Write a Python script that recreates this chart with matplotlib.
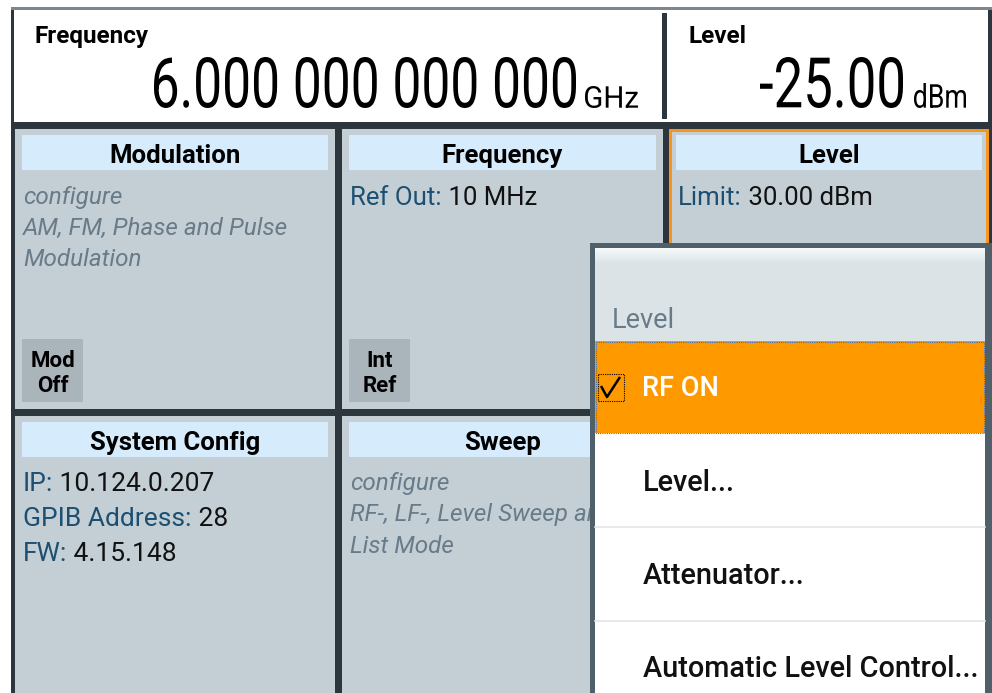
import numpy as np
import matplotlib
matplotlib.use('Agg')
import matplotlib.pyplot as plt
from matplotlib.patches import Rectangle, PathPatch
from matplotlib.textpath import TextPath
from matplotlib.font_manager import FontProperties
import matplotlib.transforms as mtransforms

plt.rcParams['font.family'] = ['Roboto', 'DejaVu Sans']

# Screen content
freq_label = 'Frequency'
freq_value = '6.000 000 000 000'
freq_unit = 'GHz'
level_label = 'Level'
level_value = '-25.00'
level_unit = 'dBm'

tile_titles = ['Modulation', 'Frequency', 'Level', 'System Config', 'Sweep']
mod_lines = ['configure', 'AM, FM, Phase and Pulse', 'Modulation']
sweep_lines = ['configure', 'RF-, LF-, Level Sweep and', 'List Mode']
freq_info = ('Ref Out:', '10 MHz')
level_info = ('Limit:', '30.00 dBm')
sys_labels = ['IP:', 'GPIB Address:', 'FW:']
sys_values = ['10.124.0.207', '28', '4.15.148']
buttons = [('Mod', 'Off'), ('Int', 'Ref')]

menu_title = 'Level'
menu_items = ['RF ON', 'Level...', 'Attenuator...', 'Automatic Level Control...']

# Colors
DARK = '#2c363c'
TILE = '#c4ced5'
TITLE_BAR = '#d6ecfc'
BUTTON = '#aab4bb'
ITALIC = '#687b88'
BLUE = '#1c4f71'
ORANGE = '#fe9a00'
MENU_BORDER = '#4f606b'
MENU_HEAD = '#dbe3e7'


def rect(ax, x0, x1, y0, y1, color, z=1, **kw):
    ax.add_patch(Rectangle((x0, y0), x1 - x0, y1 - y0, facecolor=color,
                           edgecolor='none', zorder=z, **kw))


def fitted_text(ax, s, x0, x1, top, bottom, z=3):
    """Draw s as a path squeezed into the box (condensed display digits)."""
    tp = TextPath((0, 0), s, size=100, prop=FontProperties(family='Roboto'))
    ext = tp.get_extents()
    sx = (x1 - x0) / ext.width
    sy = (bottom - top) / ext.height
    tr = (mtransforms.Affine2D().translate(-ext.x0, -ext.y0)
          .scale(sx, -sy).translate(x0, bottom))
    ax.add_patch(PathPatch(tr.transform_path(tp), facecolor='black',
                           edgecolor='none', zorder=z))


def label_value(ax, x, y, label, value, size=18.5, z=3):
    t = ax.text(x, y, label, color=BLUE, fontsize=size, va='baseline', zorder=z)
    ax.annotate(' ' + value, xy=(1, 0), xycoords=t, va='bottom', ha='left',
                fontsize=size, color='#111111', zorder=z)


fig = plt.figure(figsize=(9.92, 6.93), dpi=100)
ax = fig.add_axes([0, 0, 1, 1])
ax.set_xlim(0, 992)
ax.set_ylim(693, 0)
ax.axis('off')

# Frame and header
rect(ax, 11, 992, 7, 693, DARK, z=0)
rect(ax, 11, 992, 7, 10, '#7d878d', z=0.5)
rect(ax, 14, 988, 10, 122, 'white')
rect(ax, 662, 667, 13, 119, DARK, z=2)

ax.text(35, 43, freq_label, fontsize=17.5, fontweight='bold', va='baseline')
ax.text(688, 43, level_label, fontsize=17.5, fontweight='bold', va='baseline')
fitted_text(ax, freq_value, 154, 576, 57, 108)
fitted_text(ax, freq_unit, 585, 638, 86, 108)
fitted_text(ax, level_value, 760, 903, 57, 108)
fitted_text(ax, level_unit, 914, 966, 83, 108)

# Tiles
tile_boxes = [(15, 335, 129, 409), (342, 663, 129, 409), (669, 989, 129, 409),
              (15, 335, 416, 693), (342, 663, 416, 693)]
for title, (x0, x1, y0, y1) in zip(tile_titles, tile_boxes):
    if title == 'Level':
        rect(ax, x0, x1, y0, y1, '#f7941d')
        rect(ax, x0 + 3, x1 - 3, y0 + 3, y1, TILE, z=1.1)
    else:
        rect(ax, x0, x1, y0, y1, TILE)
    rect(ax, x0 + 7, x1 - 7, y0 + 6, y0 + 41, TITLE_BAR, z=1.5)
    ax.text((x0 + x1) / 2, y0 + 34, title, fontsize=18.5, fontweight='bold',
            ha='center', va='baseline', zorder=3)

for i, line in enumerate(mod_lines):
    ax.text(23, 204 + 31 * i, line, fontsize=17.5, style='italic', color=ITALIC,
            va='baseline', zorder=3)
for i, line in enumerate(sweep_lines):
    ax.text(350, 490 + 31.5 * i, line, fontsize=17.5, style='italic', color=ITALIC,
            va='baseline', zorder=3)

label_value(ax, 350, 205, *freq_info)
label_value(ax, 678, 205, *level_info)
for i, (lab, val) in enumerate(zip(sys_labels, sys_values)):
    label_value(ax, 23, 491 + 35 * i, lab, val, size=19)

for (top, bot), bx in zip(buttons, [22, 349]):
    rect(ax, bx, bx + 61, 339, 402, BUTTON, z=1.5)
    ax.text(bx + 30.5, 367, top, fontsize=16, fontweight='bold', ha='center',
            va='baseline', zorder=3)
    ax.text(bx + 30.5, 392, bot, fontsize=16, fontweight='bold', ha='center',
            va='baseline', zorder=3)

# Drop-down menu
Z = 10
rect(ax, 590, 992, 243, 693, MENU_BORDER, z=Z)
rect(ax, 595, 985, 248, 693, 'white', z=Z + 0.1)
rect(ax, 595, 985, 248, 341, MENU_HEAD, z=Z + 0.2)
grad = np.linspace(0, 1, 20).reshape(-1, 1)
ax.imshow(grad, extent=(595, 985, 264, 248), cmap=matplotlib.colors.LinearSegmentedColormap
          .from_list('g', ['#f7f9fa', MENU_HEAD]), aspect='auto', zorder=Z + 0.3)
ax.set_xlim(0, 992)
ax.set_ylim(693, 0)
ax.text(612, 328, menu_title, fontsize=19.5, color=ITALIC, va='baseline', zorder=Z + 1)

rect(ax, 595, 985, 341, 433, ORANGE, z=Z + 0.4)
ax.add_patch(Rectangle((596, 341.5), 388, 91, facecolor='none', edgecolor='#4a6da8',
                       lw=0.8, ls=(0, (1, 1)), zorder=Z + 0.5))
ax.add_patch(Rectangle((598, 374), 26, 27, facecolor='none', edgecolor='black',
                       lw=0.8, ls=(0, (1, 1)), zorder=Z + 0.6))
ax.plot([601, 607, 620], [386, 397, 377], color='black', lw=1.8, zorder=Z + 0.7,
        solid_capstyle='butt')
ax.text(642, 396, menu_items[0], fontsize=19.5, fontweight='medium', color='white',
        va='baseline', zorder=Z + 1)

for i, item in enumerate(menu_items[1:]):
    base = 491 + 93 * i
    ax.text(643, base, item, fontsize=20.8, fontweight='medium', color='#111111',
            va='baseline', zorder=Z + 1)
    if i < 2:
        ax.plot([595, 985], [527 + 94 * i] * 2, color='#e1e6e9', lw=1.2, zorder=Z + 0.5)

fig.savefig('out.png', dpi=100)
